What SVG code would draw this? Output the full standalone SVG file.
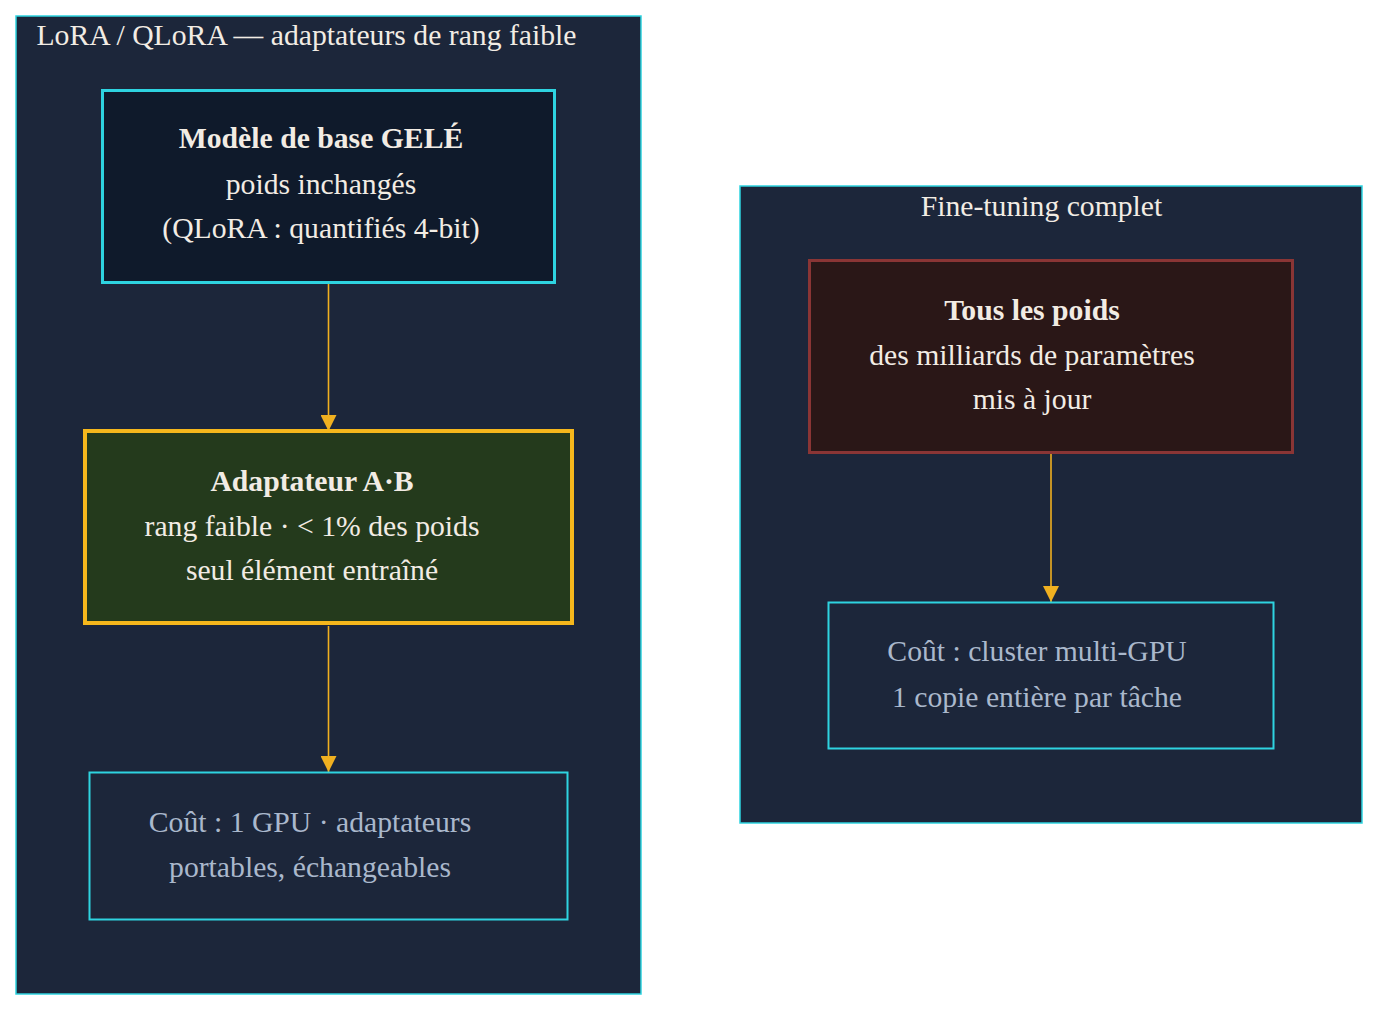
<svg xmlns="http://www.w3.org/2000/svg" width="1394" height="1022" viewBox="0 0 1394 1022">
<defs>
<style>
text{font-family:"Liberation Serif","Times New Roman",serif;font-size:29.7px;text-anchor:middle}
.cl{fill:#1c263a;stroke:#2ed3e0;stroke-width:1.5}
.ct{fill:#f2ece4}
.t{fill:#f2ece4}
.b{font-weight:bold}
.m{fill:#aab8cc}
.e{fill:none;stroke:#f0b020;stroke-width:1.6}
</style>
<marker id="ah2" viewBox="0 0 10 10" refX="10" refY="5" markerWidth="16" markerHeight="16" markerUnits="userSpaceOnUse" orient="auto"><path d="M0,0L10,5L0,10z" fill="#f0b020"/></marker>
</defs>
<rect width="1394" height="1022" fill="#ffffff"/>
<g id="cluster-lora">
<rect class="cl" x="16" y="16" width="625" height="978"/>
<text class="ct" x="306.5" y="45">LoRA / QLoRA — adaptateurs de rang faible</text>
</g>
<g id="cluster-full">
<rect class="cl" x="740" y="186" width="622" height="637"/>
<text class="ct" x="1041.5" y="216">Fine-tuning complet</text>
</g>
<g id="connectors">
<path class="e" d="M328.5,284V431" marker-end="url(#ah2)"/>
<path class="e" d="M328.5,626V772" marker-end="url(#ah2)"/>
<path class="e" d="M1051,454V602" marker-end="url(#ah2)"/>
</g>
<g id="base">
<rect x="102.5" y="90.5" width="452" height="192" fill="#0f1a2b" stroke="#2ed3e0" stroke-width="3"/>
<text class="t b" x="321" y="148">Modèle de base GELÉ</text>
<text class="t" x="321" y="194">poids inchangés</text>
<text class="t" x="321" y="238">(QLoRA : quantifiés 4-bit)</text>
</g>
<g id="adapter">
<rect x="85" y="431" width="487" height="192" fill="#243a1c" stroke="#f5b71c" stroke-width="4"/>
<text class="t b" x="312" y="491">Adaptateur A·B</text>
<text class="t" x="312" y="536">rang faible · &lt; 1% des poids</text>
<text class="t" x="312" y="580">seul élément entraîné</text>
</g>
<g id="cost-lora">
<rect x="89.5" y="772.5" width="478" height="147" fill="#1c263a" stroke="#2ed3e0" stroke-width="2"/>
<text class="m" x="310" y="832">Coût : 1 GPU · adaptateurs</text>
<text class="m" x="310" y="877">portables, échangeables</text>
</g>
<g id="all-weights">
<rect x="809.5" y="260.5" width="483" height="192" fill="#2a1717" stroke="#8a3535" stroke-width="3"/>
<text class="t b" x="1032" y="320">Tous les poids</text>
<text class="t" x="1032" y="365">des milliards de paramètres</text>
<text class="t" x="1032" y="409">mis à jour</text>
</g>
<g id="cost-full">
<rect x="828.5" y="602.5" width="445" height="146" fill="#1c263a" stroke="#2ed3e0" stroke-width="2"/>
<text class="m" x="1037" y="661">Coût : cluster multi-GPU</text>
<text class="m" x="1037" y="707">1 copie entière par tâche</text>
</g>
</svg>
